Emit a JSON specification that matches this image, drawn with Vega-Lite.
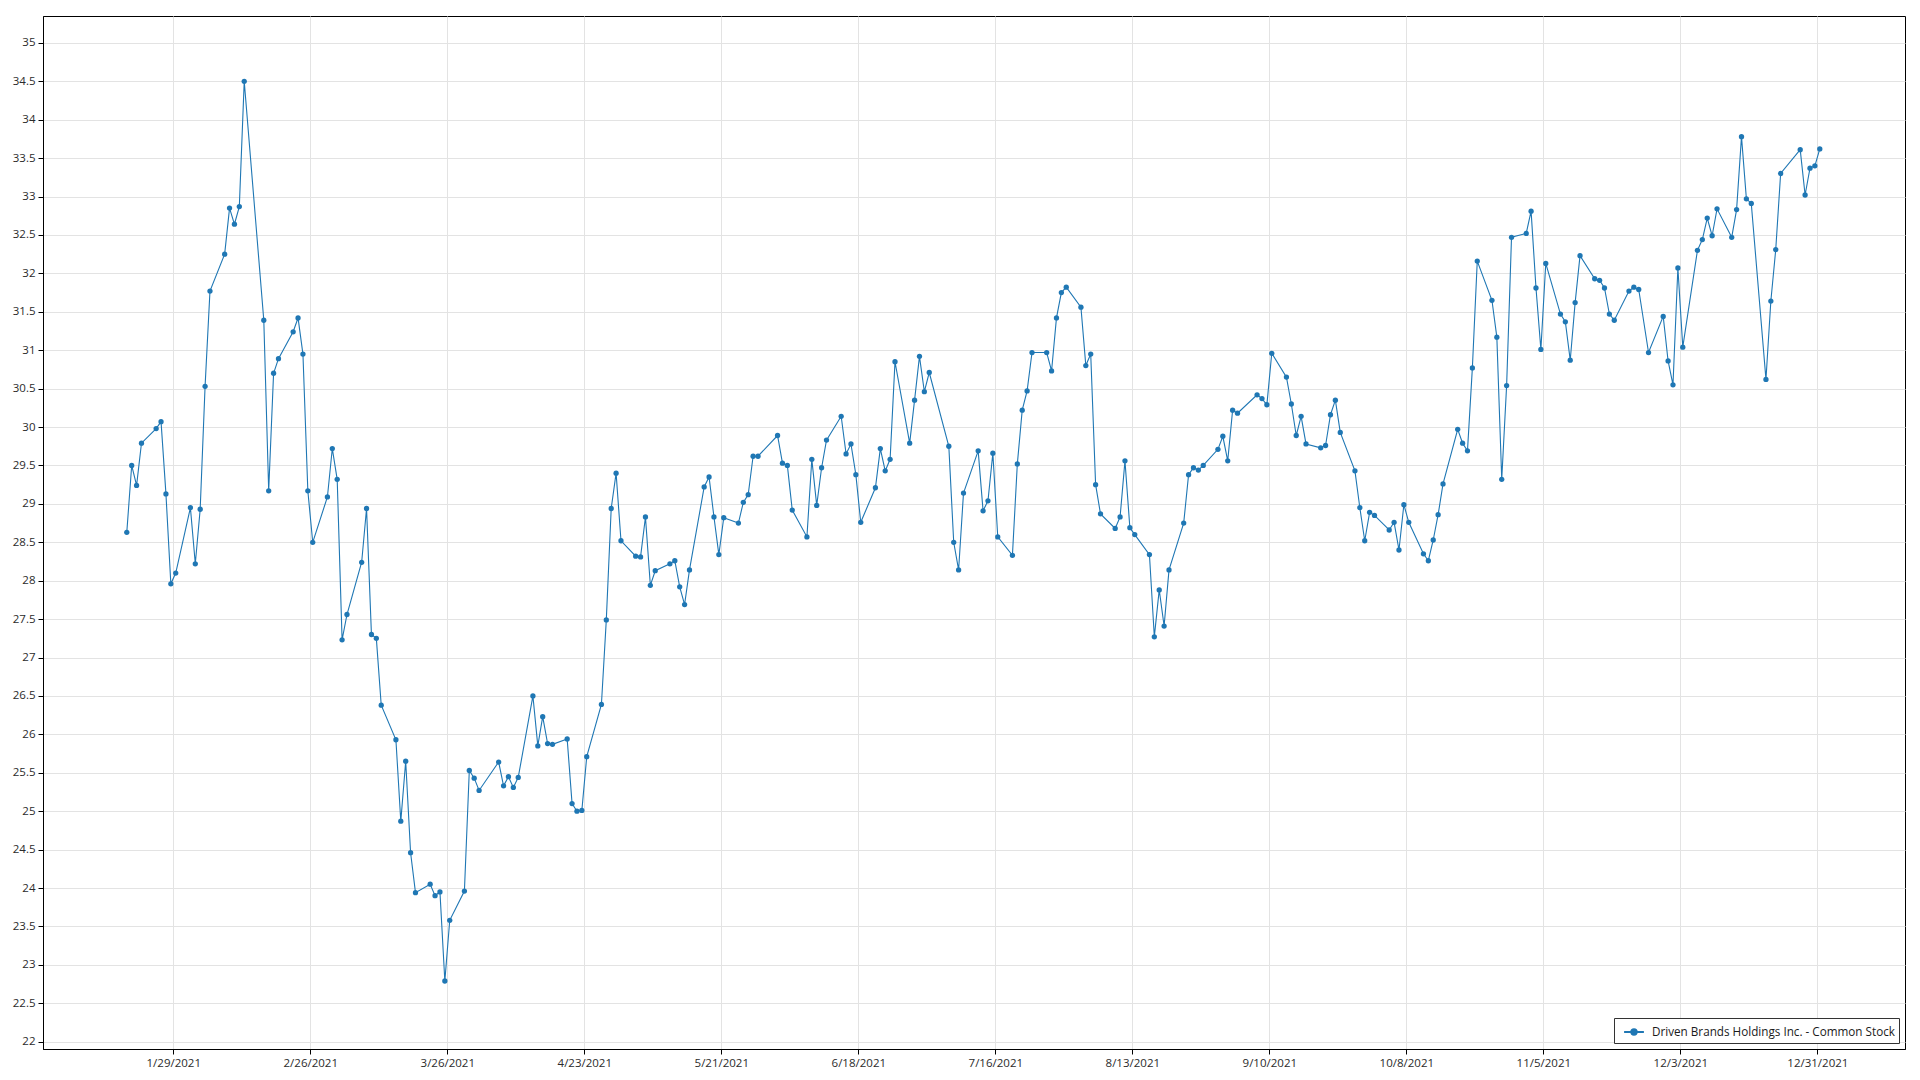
{
  "$schema": "https://vega.github.io/schema/vega-lite/v6.json",
  "width": 1862,
  "height": 1033,
  "autosize": "none",
  "padding": {"left": 43, "top": 16, "right": 15, "bottom": 31},
  "background": "white",
  "config": {
    "font": "Open Sans",
    "view": {"stroke": "#000000", "strokeWidth": 1},
    "axis": {
      "gridColor": "#e3e3e3",
      "gridWidth": 1,
      "domainColor": "#000000",
      "tickColor": "#000000",
      "tickSize": 5,
      "labelColor": "#2b2b2b",
      "labelFontSize": 11.5,
      "labelFont": "Open Sans",
      "title": null
    }
  },
  "data": {
    "values": [
      {"date": "2021-01-19", "close": 28.63},
      {"date": "2021-01-20", "close": 29.50},
      {"date": "2021-01-21", "close": 29.24},
      {"date": "2021-01-22", "close": 29.79},
      {"date": "2021-01-25", "close": 29.98},
      {"date": "2021-01-26", "close": 30.07},
      {"date": "2021-01-27", "close": 29.13},
      {"date": "2021-01-28", "close": 27.96},
      {"date": "2021-01-29", "close": 28.10},
      {"date": "2021-02-01", "close": 28.95},
      {"date": "2021-02-02", "close": 28.22},
      {"date": "2021-02-03", "close": 28.93},
      {"date": "2021-02-04", "close": 30.53},
      {"date": "2021-02-05", "close": 31.77},
      {"date": "2021-02-08", "close": 32.25},
      {"date": "2021-02-09", "close": 32.85},
      {"date": "2021-02-10", "close": 32.64},
      {"date": "2021-02-11", "close": 32.87},
      {"date": "2021-02-12", "close": 34.50},
      {"date": "2021-02-16", "close": 31.39},
      {"date": "2021-02-17", "close": 29.17},
      {"date": "2021-02-18", "close": 30.70},
      {"date": "2021-02-19", "close": 30.89},
      {"date": "2021-02-22", "close": 31.24},
      {"date": "2021-02-23", "close": 31.42},
      {"date": "2021-02-24", "close": 30.95},
      {"date": "2021-02-25", "close": 29.17},
      {"date": "2021-02-26", "close": 28.50},
      {"date": "2021-03-01", "close": 29.09},
      {"date": "2021-03-02", "close": 29.72},
      {"date": "2021-03-03", "close": 29.32},
      {"date": "2021-03-04", "close": 27.23},
      {"date": "2021-03-05", "close": 27.56},
      {"date": "2021-03-08", "close": 28.24},
      {"date": "2021-03-09", "close": 28.94},
      {"date": "2021-03-10", "close": 27.30},
      {"date": "2021-03-11", "close": 27.25},
      {"date": "2021-03-12", "close": 26.38},
      {"date": "2021-03-15", "close": 25.93},
      {"date": "2021-03-16", "close": 24.87},
      {"date": "2021-03-17", "close": 25.65},
      {"date": "2021-03-18", "close": 24.46},
      {"date": "2021-03-19", "close": 23.94},
      {"date": "2021-03-22", "close": 24.05},
      {"date": "2021-03-23", "close": 23.90},
      {"date": "2021-03-24", "close": 23.95},
      {"date": "2021-03-25", "close": 22.79},
      {"date": "2021-03-26", "close": 23.58},
      {"date": "2021-03-29", "close": 23.96},
      {"date": "2021-03-30", "close": 25.53},
      {"date": "2021-03-31", "close": 25.43},
      {"date": "2021-04-01", "close": 25.27},
      {"date": "2021-04-05", "close": 25.64},
      {"date": "2021-04-06", "close": 25.33},
      {"date": "2021-04-07", "close": 25.45},
      {"date": "2021-04-08", "close": 25.31},
      {"date": "2021-04-09", "close": 25.44},
      {"date": "2021-04-12", "close": 26.50},
      {"date": "2021-04-13", "close": 25.85},
      {"date": "2021-04-14", "close": 26.23},
      {"date": "2021-04-15", "close": 25.88},
      {"date": "2021-04-16", "close": 25.87},
      {"date": "2021-04-19", "close": 25.94},
      {"date": "2021-04-20", "close": 25.10},
      {"date": "2021-04-21", "close": 25.00},
      {"date": "2021-04-22", "close": 25.01},
      {"date": "2021-04-23", "close": 25.71},
      {"date": "2021-04-26", "close": 26.39},
      {"date": "2021-04-27", "close": 27.49},
      {"date": "2021-04-28", "close": 28.94},
      {"date": "2021-04-29", "close": 29.40},
      {"date": "2021-04-30", "close": 28.52},
      {"date": "2021-05-03", "close": 28.32},
      {"date": "2021-05-04", "close": 28.31},
      {"date": "2021-05-05", "close": 28.83},
      {"date": "2021-05-06", "close": 27.94},
      {"date": "2021-05-07", "close": 28.13},
      {"date": "2021-05-10", "close": 28.22},
      {"date": "2021-05-11", "close": 28.26},
      {"date": "2021-05-12", "close": 27.92},
      {"date": "2021-05-13", "close": 27.69},
      {"date": "2021-05-14", "close": 28.14},
      {"date": "2021-05-17", "close": 29.22},
      {"date": "2021-05-18", "close": 29.35},
      {"date": "2021-05-19", "close": 28.83},
      {"date": "2021-05-20", "close": 28.34},
      {"date": "2021-05-21", "close": 28.82},
      {"date": "2021-05-24", "close": 28.75},
      {"date": "2021-05-25", "close": 29.02},
      {"date": "2021-05-26", "close": 29.12},
      {"date": "2021-05-27", "close": 29.62},
      {"date": "2021-05-28", "close": 29.62},
      {"date": "2021-06-01", "close": 29.89},
      {"date": "2021-06-02", "close": 29.53},
      {"date": "2021-06-03", "close": 29.50},
      {"date": "2021-06-04", "close": 28.92},
      {"date": "2021-06-07", "close": 28.57},
      {"date": "2021-06-08", "close": 29.58},
      {"date": "2021-06-09", "close": 28.98},
      {"date": "2021-06-10", "close": 29.47},
      {"date": "2021-06-11", "close": 29.83},
      {"date": "2021-06-14", "close": 30.14},
      {"date": "2021-06-15", "close": 29.65},
      {"date": "2021-06-16", "close": 29.78},
      {"date": "2021-06-17", "close": 29.38},
      {"date": "2021-06-18", "close": 28.76},
      {"date": "2021-06-21", "close": 29.21},
      {"date": "2021-06-22", "close": 29.72},
      {"date": "2021-06-23", "close": 29.43},
      {"date": "2021-06-24", "close": 29.58},
      {"date": "2021-06-25", "close": 30.85},
      {"date": "2021-06-28", "close": 29.79},
      {"date": "2021-06-29", "close": 30.35},
      {"date": "2021-06-30", "close": 30.92},
      {"date": "2021-07-01", "close": 30.46},
      {"date": "2021-07-02", "close": 30.71},
      {"date": "2021-07-06", "close": 29.75},
      {"date": "2021-07-07", "close": 28.50},
      {"date": "2021-07-08", "close": 28.14},
      {"date": "2021-07-09", "close": 29.14},
      {"date": "2021-07-12", "close": 29.69},
      {"date": "2021-07-13", "close": 28.91},
      {"date": "2021-07-14", "close": 29.04},
      {"date": "2021-07-15", "close": 29.66},
      {"date": "2021-07-16", "close": 28.57},
      {"date": "2021-07-19", "close": 28.33},
      {"date": "2021-07-20", "close": 29.52},
      {"date": "2021-07-21", "close": 30.22},
      {"date": "2021-07-22", "close": 30.47},
      {"date": "2021-07-23", "close": 30.97},
      {"date": "2021-07-26", "close": 30.97},
      {"date": "2021-07-27", "close": 30.73},
      {"date": "2021-07-28", "close": 31.42},
      {"date": "2021-07-29", "close": 31.75},
      {"date": "2021-07-30", "close": 31.82},
      {"date": "2021-08-02", "close": 31.56},
      {"date": "2021-08-03", "close": 30.80},
      {"date": "2021-08-04", "close": 30.95},
      {"date": "2021-08-05", "close": 29.25},
      {"date": "2021-08-06", "close": 28.87},
      {"date": "2021-08-09", "close": 28.68},
      {"date": "2021-08-10", "close": 28.83},
      {"date": "2021-08-11", "close": 29.56},
      {"date": "2021-08-12", "close": 28.69},
      {"date": "2021-08-13", "close": 28.60},
      {"date": "2021-08-16", "close": 28.34},
      {"date": "2021-08-17", "close": 27.27},
      {"date": "2021-08-18", "close": 27.88},
      {"date": "2021-08-19", "close": 27.41},
      {"date": "2021-08-20", "close": 28.14},
      {"date": "2021-08-23", "close": 28.75},
      {"date": "2021-08-24", "close": 29.38},
      {"date": "2021-08-25", "close": 29.47},
      {"date": "2021-08-26", "close": 29.44},
      {"date": "2021-08-27", "close": 29.50},
      {"date": "2021-08-30", "close": 29.71},
      {"date": "2021-08-31", "close": 29.88},
      {"date": "2021-09-01", "close": 29.56},
      {"date": "2021-09-02", "close": 30.22},
      {"date": "2021-09-03", "close": 30.18},
      {"date": "2021-09-07", "close": 30.42},
      {"date": "2021-09-08", "close": 30.37},
      {"date": "2021-09-09", "close": 30.29},
      {"date": "2021-09-10", "close": 30.96},
      {"date": "2021-09-13", "close": 30.65},
      {"date": "2021-09-14", "close": 30.30},
      {"date": "2021-09-15", "close": 29.89},
      {"date": "2021-09-16", "close": 30.14},
      {"date": "2021-09-17", "close": 29.78},
      {"date": "2021-09-20", "close": 29.73},
      {"date": "2021-09-21", "close": 29.76},
      {"date": "2021-09-22", "close": 30.16},
      {"date": "2021-09-23", "close": 30.35},
      {"date": "2021-09-24", "close": 29.93},
      {"date": "2021-09-27", "close": 29.43},
      {"date": "2021-09-28", "close": 28.95},
      {"date": "2021-09-29", "close": 28.52},
      {"date": "2021-09-30", "close": 28.89},
      {"date": "2021-10-01", "close": 28.85},
      {"date": "2021-10-04", "close": 28.66},
      {"date": "2021-10-05", "close": 28.76},
      {"date": "2021-10-06", "close": 28.40},
      {"date": "2021-10-07", "close": 28.99},
      {"date": "2021-10-08", "close": 28.76},
      {"date": "2021-10-11", "close": 28.35},
      {"date": "2021-10-12", "close": 28.26},
      {"date": "2021-10-13", "close": 28.53},
      {"date": "2021-10-14", "close": 28.86},
      {"date": "2021-10-15", "close": 29.26},
      {"date": "2021-10-18", "close": 29.97},
      {"date": "2021-10-19", "close": 29.79},
      {"date": "2021-10-20", "close": 29.69},
      {"date": "2021-10-21", "close": 30.77},
      {"date": "2021-10-22", "close": 32.16},
      {"date": "2021-10-25", "close": 31.65},
      {"date": "2021-10-26", "close": 31.17},
      {"date": "2021-10-27", "close": 29.32},
      {"date": "2021-10-28", "close": 30.54},
      {"date": "2021-10-29", "close": 32.47},
      {"date": "2021-11-01", "close": 32.52},
      {"date": "2021-11-02", "close": 32.81},
      {"date": "2021-11-03", "close": 31.81},
      {"date": "2021-11-04", "close": 31.01},
      {"date": "2021-11-05", "close": 32.13},
      {"date": "2021-11-08", "close": 31.47},
      {"date": "2021-11-09", "close": 31.37},
      {"date": "2021-11-10", "close": 30.87},
      {"date": "2021-11-11", "close": 31.62},
      {"date": "2021-11-12", "close": 32.23},
      {"date": "2021-11-15", "close": 31.93},
      {"date": "2021-11-16", "close": 31.91},
      {"date": "2021-11-17", "close": 31.81},
      {"date": "2021-11-18", "close": 31.47},
      {"date": "2021-11-19", "close": 31.39},
      {"date": "2021-11-22", "close": 31.77},
      {"date": "2021-11-23", "close": 31.82},
      {"date": "2021-11-24", "close": 31.79},
      {"date": "2021-11-26", "close": 30.97},
      {"date": "2021-11-29", "close": 31.44},
      {"date": "2021-11-30", "close": 30.86},
      {"date": "2021-12-01", "close": 30.55},
      {"date": "2021-12-02", "close": 32.07},
      {"date": "2021-12-03", "close": 31.04},
      {"date": "2021-12-06", "close": 32.30},
      {"date": "2021-12-07", "close": 32.44},
      {"date": "2021-12-08", "close": 32.72},
      {"date": "2021-12-09", "close": 32.49},
      {"date": "2021-12-10", "close": 32.84},
      {"date": "2021-12-13", "close": 32.47},
      {"date": "2021-12-14", "close": 32.83},
      {"date": "2021-12-15", "close": 33.78},
      {"date": "2021-12-16", "close": 32.97},
      {"date": "2021-12-17", "close": 32.91},
      {"date": "2021-12-20", "close": 30.62},
      {"date": "2021-12-21", "close": 31.64},
      {"date": "2021-12-22", "close": 32.31},
      {"date": "2021-12-23", "close": 33.30},
      {"date": "2021-12-27", "close": 33.61},
      {"date": "2021-12-28", "close": 33.02},
      {"date": "2021-12-29", "close": 33.37},
      {"date": "2021-12-30", "close": 33.40},
      {"date": "2021-12-31", "close": 33.62}
    ]
  },
  "mark": {
    "type": "line",
    "strokeWidth": 1.1,
    "point": {"filled": true, "size": 28}
  },
  "encoding": {
    "x": {
      "field": "date",
      "type": "temporal",
      "timeUnit": "utcyearmonthdate",
      "bandPosition": 0.5,
      "scale": {
        "domain": [
          {"year": 2021, "month": 1, "date": 2, "hours": 9, "utc": true},
          {"year": 2022, "month": 1, "date": 17, "hours": 22, "utc": true}
        ]
      },
      "axis": {
        "values": [
          {"year": 2021, "month": 1, "date": 29, "utc": true},
          {"year": 2021, "month": 2, "date": 26, "utc": true},
          {"year": 2021, "month": 3, "date": 26, "utc": true},
          {"year": 2021, "month": 4, "date": 23, "utc": true},
          {"year": 2021, "month": 5, "date": 21, "utc": true},
          {"year": 2021, "month": 6, "date": 18, "utc": true},
          {"year": 2021, "month": 7, "date": 16, "utc": true},
          {"year": 2021, "month": 8, "date": 13, "utc": true},
          {"year": 2021, "month": 9, "date": 10, "utc": true},
          {"year": 2021, "month": 10, "date": 8, "utc": true},
          {"year": 2021, "month": 11, "date": 5, "utc": true},
          {"year": 2021, "month": 12, "date": 3, "utc": true},
          {"year": 2021, "month": 12, "date": 31, "utc": true}
        ],
        "format": "%-m/%-d/%Y",
        "labelAngle": 0,
        "labelPadding": 3,
        "labelFlush": false,
        "labelOverlap": false
      }
    },
    "y": {
      "field": "close",
      "type": "quantitative",
      "scale": {"domain": [21.905, 35.35], "nice": false, "zero": false},
      "axis": {
        "values": [22, 22.5, 23, 23.5, 24, 24.5, 25, 25.5, 26, 26.5, 27, 27.5, 28, 28.5, 29, 29.5, 30, 30.5, 31, 31.5, 32, 32.5, 33, 33.5, 34, 34.5, 35],
        "format": "~g",
        "labelPadding": 3,
        "labelOverlap": false
      }
    },
    "color": {
      "datum": "Driven Brands Holdings Inc. - Common Stock",
      "type": "nominal",
      "scale": {"range": ["#1f77b4"]},
      "legend": {
        "title": null,
        "orient": "bottom-right",
        "offset": 6,
        "padding": 4,
        "strokeColor": "#333333",
        "fillColor": "#ffffff",
        "labelFontSize": 11.7,
        "labelColor": "#1a1a1a",
        "labelLimit": 0,
        "labelOffset": 8,
        "symbolOffset": 6,
        "symbolType": "M-1.1,0L1.1,0M0.3,0A0.3,0.3,0,1,1,-0.3,0A0.3,0.3,0,1,1,0.3,0Z",
        "symbolSize": 324,
        "symbolStrokeWidth": 2,
        "encode": {
          "symbols": {"update": {"fill": {"value": "#1f77b4"}, "stroke": {"value": "#7fb1da"}, "fillOpacity": {"value": 1}, "strokeWidth": {"value": 2}}}
        }
      }
    }
  }
}
